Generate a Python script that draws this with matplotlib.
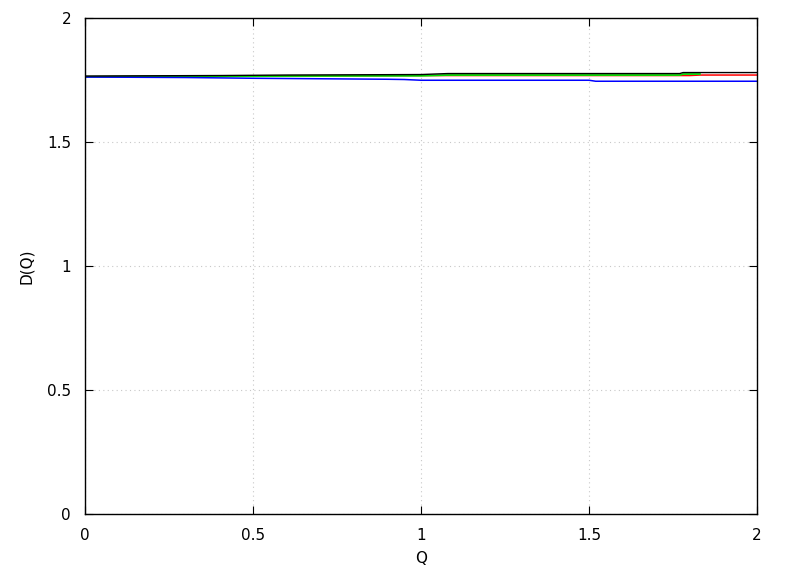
import numpy as np
import matplotlib.pyplot as plt

# ─── Data ────────────────────────────────────────────────────────────
q_black = [0.0, 0.2, 0.4, 0.6, 1.0, 1.08, 1.5, 1.77, 1.78, 2.0]
d_black = [1.766, 1.767, 1.768, 1.770, 1.772, 1.776, 1.776, 1.776, 1.780, 1.780]

q_red = [0.0, 0.2, 0.3, 0.4, 1.0, 1.8, 1.83, 2.0]
d_red = [1.763, 1.764, 1.766, 1.766, 1.768, 1.768, 1.770, 1.770]

q_green = [0.0, 0.4, 0.6, 1.0, 1.08, 1.77, 1.78, 1.83]
d_green = [1.763, 1.765, 1.766, 1.767, 1.770, 1.770, 1.774, 1.774]

q_blue = [0.0, 0.3, 0.5, 0.7, 0.9, 0.95, 1.0, 1.5, 1.52, 2.0]
d_blue = [1.762, 1.760, 1.757, 1.755, 1.753, 1.752, 1.749, 1.749, 1.745, 1.745]

ticks = [0, 0.5, 1, 1.5, 2]
tick_labels = ['0', '0.5', '1', '1.5', '2']

# ─── Plot ─────────────────────────────────────────────────────────────
fig = plt.figure(figsize=(7.88, 5.76), dpi=100)
ax = fig.add_axes([85/788, 62/576, 672/788, 496/576])

ax.plot(q_red, d_red, color='#ff0000', lw=1.1)
ax.plot(q_green, d_green, color='#00e000', lw=1.3)
ax.plot(q_blue, d_blue, color='#0000ff', lw=1.1)
ax.plot(q_black, d_black, color='black', lw=1.0)

ax.set_xlim(0, 2)
ax.set_ylim(0, 2)
ax.set_xticks(ticks)
ax.set_xticklabels(tick_labels)
ax.set_yticks(ticks)
ax.set_yticklabels(tick_labels)
ax.tick_params(axis='x', direction='in', top=True, labelsize=11, length=6, pad=10)
ax.tick_params(axis='y', direction='in', right=True, labelsize=11, length=6, pad=10)
for s in ax.spines.values():
    s.set_linewidth(1.0)
ax.grid(True, color='#c8c8c8', linestyle=(0, (1, 3)), linewidth=0.8)
ax.set_xlabel('Q', fontsize=11, labelpad=6)
ax.set_ylabel('D(Q)', fontsize=11, labelpad=9)

fig.savefig('out.png', dpi=100)
